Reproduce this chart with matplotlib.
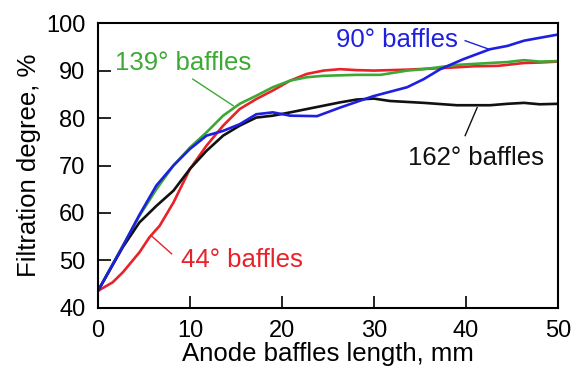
import numpy as np
import matplotlib.pyplot as plt

plt.rcParams['font.family'] = ['Liberation Sans', 'DejaVu Sans']

# length of anode baffles, mm
x_blue = [0, 2.7, 4.5, 6.35, 8.2, 10, 11.8, 13.6, 15.4, 17.2, 19, 20.9, 23.8,
          26.3, 29.9, 33.6, 35.4, 37.2, 39.7, 42.6, 44.5, 46.3, 48, 50]
y_blue = [43.6, 53.0, 59.6, 65.8, 70, 73.5, 76.3, 77.3, 78.7, 80.8, 81.2, 80.5,
          80.4, 82.2, 84.6, 86.5, 88.2, 90.3, 92.4, 94.5, 95.2, 96.3, 96.9, 97.6]

x_green = [0, 2.7, 4.5, 6.35, 8.2, 10, 11.8, 13.6, 15.4, 17.2, 19, 20.9, 22.7,
           24.5, 28.1, 30.7, 33.6, 35.4, 39, 42.6, 44.5, 46.3, 48, 50]
y_green = [43.6, 53.1, 59.4, 65, 70, 73.8, 77, 80.5, 83, 84.7, 86.5, 87.9, 88.6,
           88.9, 89.1, 89.1, 90, 90.3, 91.2, 91.6, 91.8, 92.2, 91.9, 92]

x_red = [0, 1.6, 2.7, 4.5, 5.6, 6.7, 8.2, 10, 11.8, 13.6, 15.4, 17.2, 19, 20.9,
         22.7, 24.5, 26.3, 28.1, 30, 33.6, 37.2, 40.8, 43.5, 46.3, 48, 50]
y_red = [43.6, 45.4, 47.5, 51.7, 54.9, 57.3, 62.2, 69.3, 74.2, 78.4, 81.9, 84,
         85.8, 87.9, 89.3, 90, 90.3, 90.1, 90, 90.2, 90.5, 90.9, 91, 91.6, 91.7, 91.9]

x_black = [0, 2.7, 4.5, 6.35, 8.2, 10, 11.8, 13.6, 15.4, 17.2, 19, 20.9, 22.7,
           24.5, 26.3, 28.1, 30, 31.7, 35.4, 39, 42.6, 44.5, 46.3, 48, 50]
y_black = [43.6, 52.8, 58, 61.5, 64.7, 69.3, 73.1, 76.3, 78.4, 80.1, 80.5, 81.2,
           81.9, 82.6, 83.3, 83.9, 84.1, 83.6, 83.2, 82.7, 82.7, 83.0, 83.2, 82.9, 83]

col_blue = '#1f1fe0'
col_green = '#3da935'
col_red = '#e8222a'
col_black = '#111111'

fig = plt.figure(figsize=(5.73, 3.67), dpi=100)
ax = fig.add_axes([0.171, 0.161, 0.803, 0.776])

ax.plot(x_red, y_red, color=col_red, lw=1.9)
ax.plot(x_green, y_green, color=col_green, lw=1.9)
ax.plot(x_black, y_black, color=col_black, lw=1.9)
ax.plot(x_blue, y_blue, color=col_blue, lw=1.9)

ax.set_xlim(0, 50)
ax.set_ylim(40, 100)
ax.set_xticks([0, 10, 20, 30, 40, 50])
ax.set_yticks([40, 50, 60, 70, 80, 90, 100])
ax.tick_params(direction='in', length=9, width=1.2, labelsize=17, pad=9,
               top=False, right=False)
for s in ax.spines.values():
    s.set_linewidth(1.5)

ax.set_xlabel('Anode baffles length, mm', fontsize=18.5, labelpad=0)
ax.set_ylabel('Filtration degree, %', fontsize=18.5, labelpad=4)

# labels with leader lines
fs = 18.5
ax.text(32.5, 96.4, '90° baffles', color=col_blue, fontsize=fs, ha='center', va='center')
ax.plot([39.9, 42.5], [96.3, 94.5], color=col_blue, lw=1)
ax.text(9.2, 91.6, '139° baffles', color=col_green, fontsize=fs, ha='center', va='center')
ax.plot([10.3, 14.7], [88.2, 82.6], color=col_green, lw=1)
ax.text(41.1, 71.6, '162° baffles', color=col_black, fontsize=fs, ha='center', va='center')
ax.plot([39.9, 41.2], [76.3, 82.2], color=col_black, lw=1)
ax.text(15.6, 50.1, '44° baffles', color=col_red, fontsize=fs, ha='center', va='center')
ax.plot([8.0, 5.8], [51.4, 55.2], color=col_red, lw=1)

fig.savefig('out.png', dpi=100)
